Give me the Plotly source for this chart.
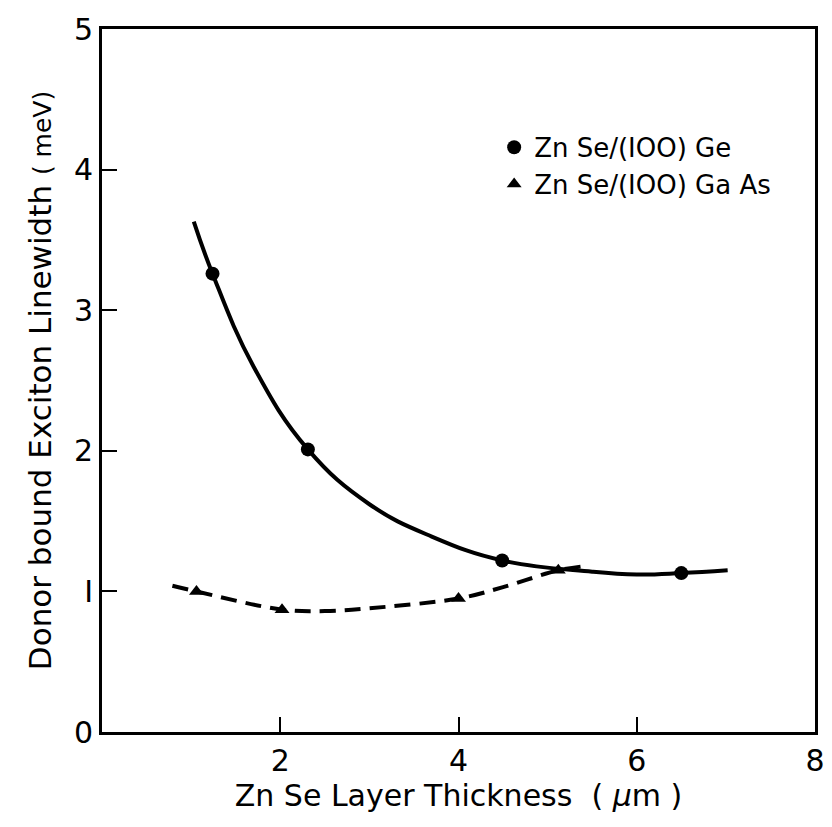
import plotly.graph_objects as go

# Measured points
ge_x = [1.24, 2.31, 4.49, 6.5]
ge_y = [3.26, 2.01, 1.22, 1.13]
gaas_x = [1.06, 2.02, 4.0, 5.12]
gaas_y = [1.0, 0.87, 0.95, 1.15]

# Hand-drawn guide curves
ge_curve_x = [1.03, 1.24, 1.7, 2.31, 3.0, 3.7, 4.49, 5.5, 6.0, 6.5, 7.02]
ge_curve_y = [3.63, 3.26, 2.60, 2.01, 1.62, 1.39, 1.22, 1.14, 1.12, 1.13, 1.15]
gaas_curve_x = [0.79, 1.06, 2.02, 2.5, 3.0, 4.0, 4.5, 5.12, 5.42]
gaas_curve_y = [1.04, 1.0, 0.87, 0.86, 0.88, 0.95, 1.03, 1.15, 1.18]

x_ticks = [2, 4, 6, 8]
y_ticks = [0, 1, 2, 3, 4, 5]
y_tick_text = ["0", "I", "2", "3", "4", "5"]

FONT = "DejaVu Sans"

fig = go.Figure()
fig.add_trace(go.Scatter(x=ge_curve_x, y=ge_curve_y, mode="lines",
                         line=dict(color="black", width=4, shape="spline", smoothing=1.2),
                         showlegend=False, hoverinfo="skip"))
fig.add_trace(go.Scatter(x=gaas_curve_x, y=gaas_curve_y, mode="lines",
                         line=dict(color="black", width=4, shape="spline", dash="16px,9px"),
                         showlegend=False, hoverinfo="skip"))
fig.add_trace(go.Scatter(x=ge_x, y=ge_y, mode="markers", name="Zn Se/(IOO) Ge",
                         marker=dict(symbol="circle", size=14, color="black")))
fig.add_trace(go.Scatter(x=gaas_x, y=gaas_y, mode="markers", name="Zn Se/(IOO) Ga As",
                         marker=dict(symbol="triangle-up", size=13, color="black")))

axis_common = dict(showline=True, linewidth=3, linecolor="black", mirror=True,
                   ticks="inside", ticklen=15, tickwidth=2, tickcolor="black",
                   showgrid=False, zeroline=False,
                   tickfont=dict(family=FONT, size=30, color="black"))

fig.update_xaxes(range=[0, 8], tickvals=x_ticks, ticktext=[str(v) for v in x_ticks],
                 title=dict(text="Zn Se Layer Thickness  ( <i>μ</i>m )",
                            font=dict(family=FONT, size=30, color="black"), standoff=6),
                 **axis_common)
fig.update_yaxes(range=[0, 5], tickvals=y_ticks, ticktext=y_tick_text,
                 title=dict(text="Donor bound Exciton Linewidth <span style='font-size:25px'>( meV)</span>",
                            font=dict(family=FONT, size=31, color="black"), standoff=14),
                 **axis_common)

fig.update_layout(
    width=832, height=827,
    margin=dict(l=102, r=7, t=29, b=95),
    paper_bgcolor="white", plot_bgcolor="white",
    legend=dict(x=0.55, y=0.865, xanchor="left", yanchor="top",
                bgcolor="rgba(0,0,0,0)", font=dict(family=FONT, size=26, color="black"),
                itemwidth=30, tracegroupgap=4),
)

fig.write_html("out.html")
